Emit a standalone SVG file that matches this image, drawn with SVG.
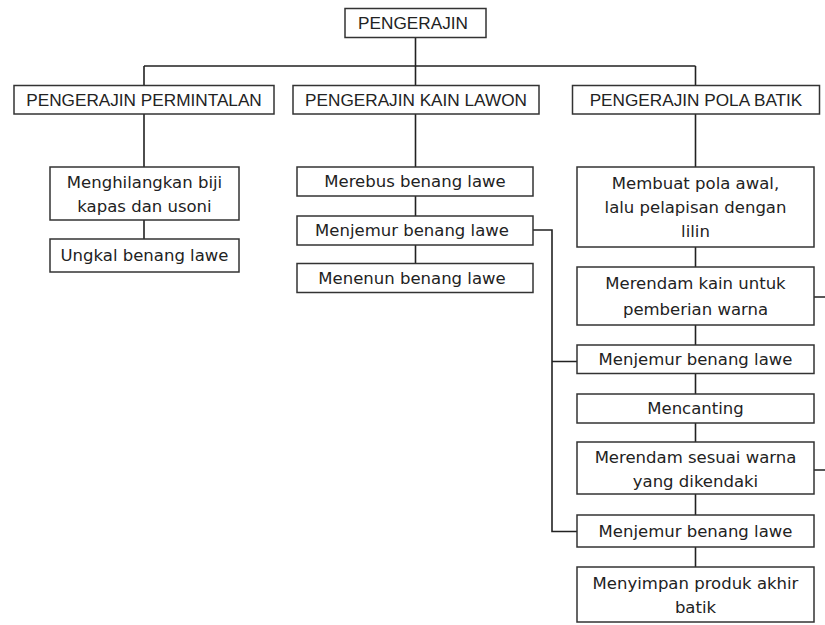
<svg xmlns="http://www.w3.org/2000/svg" width="825" height="625" viewBox="0 0 825 625">
<style>
.b{fill:#fff;stroke:#333;stroke-width:1.5}
.c{fill:none;stroke:#222;stroke-width:1.6}
text{fill:#222;text-anchor:middle}
.u{font-family:"DejaVu Sans",Verdana,sans-serif;font-size:16.5px}
.t{font-family:"Liberation Sans",Arial,sans-serif;font-size:17.2px}
</style>
<rect width="825" height="625" fill="#fff"/>
<g id="connectors">
<path class="c" d="M415.5 37.5V66M144 66H695.5M144 66V85M415.5 66V85.5M695.5 66V85"/>
<path class="c" d="M144 114V167M144 220V239"/>
<path class="c" d="M415.5 114V167M415.5 196V216M415.5 245V263"/>
<path class="c" d="M695.5 114V167M695.5 247V267M695.5 325V345M695.5 373V394M695.5 423V442M695.5 494V515M695.5 547V567"/>
<path class="c" d="M533 230H552V531.5H577M552 361.5H577"/>
<path class="c" d="M814 297H825M814 470H825"/>
</g>
<g id="pengerajin"><rect class="b" x="345" y="8.5" width="141" height="29"/><text class="t" x="413" y="29">PENGERAJIN</text></g>
<g id="permintalan"><rect class="b" x="14" y="85.5" width="260" height="28.5"/><text class="t" x="144" y="106">PENGERAJIN PERMINTALAN</text></g>
<g id="kainlawon"><rect class="b" x="293" y="85.5" width="246" height="28.5"/><text class="t" x="416" y="106">PENGERAJIN KAIN LAWON</text></g>
<g id="polabatik"><rect class="b" x="572.5" y="85.5" width="247" height="28.5"/><text class="t" x="696" y="106">PENGERAJIN POLA BATIK</text></g>
<g id="menghilangkan"><rect class="b" x="50" y="167" width="189" height="53"/><text class="u" x="144.5" y="188">Menghilangkan biji</text><text class="u" x="144.5" y="212">kapas dan usoni</text></g>
<g id="ungkal"><rect class="b" x="50" y="239" width="189" height="33"/><text class="u" x="144.5" y="261">Ungkal benang lawe</text></g>
<g id="merebus"><rect class="b" x="297" y="167" width="236" height="29"/><text class="u" x="415" y="187">Merebus benang lawe</text></g>
<g id="menjemur1"><rect class="b" x="297" y="216" width="236" height="29"/><text class="u" x="412" y="236">Menjemur benang lawe</text></g>
<g id="menenun"><rect class="b" x="297" y="263.5" width="236" height="29"/><text class="u" x="412" y="284">Menenun benang lawe</text></g>
<g id="membuat"><rect class="b" x="577" y="167" width="237" height="80"/><text class="u" x="695.5" y="189">Membuat pola awal,</text><text class="u" x="695.5" y="213">lalu pelapisan dengan</text><text class="u" x="695.5" y="237">lilin</text></g>
<g id="merendamkain"><rect class="b" x="577" y="267" width="237" height="58"/><text class="u" x="695.5" y="289">Merendam kain untuk</text><text class="u" x="695.5" y="315">pemberian warna</text></g>
<g id="menjemur2"><rect class="b" x="577" y="345" width="237" height="28.5"/><text class="u" x="695.5" y="365">Menjemur benang lawe</text></g>
<g id="mencanting"><rect class="b" x="577" y="394" width="237" height="29"/><text class="u" x="695.5" y="414">Mencanting</text></g>
<g id="merendamsesuai"><rect class="b" x="577" y="442" width="237" height="52"/><text class="u" x="695.5" y="463">Merendam sesuai warna</text><text class="u" x="695.5" y="487">yang dikendaki</text></g>
<g id="menjemur3"><rect class="b" x="577" y="515" width="237" height="32"/><text class="u" x="695.5" y="537">Menjemur benang lawe</text></g>
<g id="menyimpan"><rect class="b" x="577" y="567" width="237" height="55"/><text class="u" x="695.5" y="589">Menyimpan produk akhir</text><text class="u" x="695.5" y="613">batik</text></g>
</svg>
